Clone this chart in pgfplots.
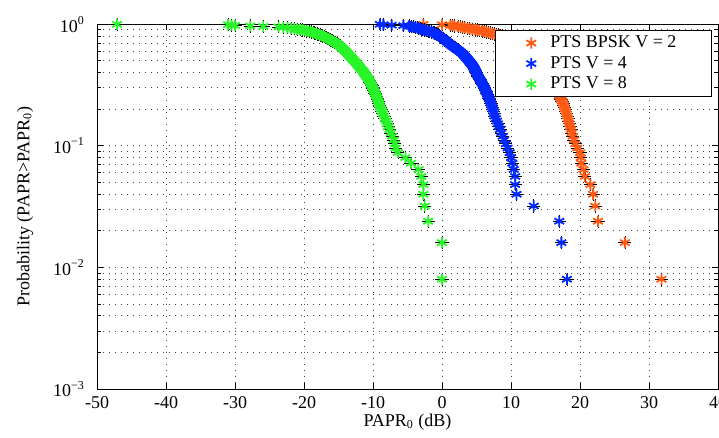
\documentclass[border=0pt]{standalone}
\usepackage{fontspec}
\setmainfont{Liberation Serif}
\usepackage{pgfplots}
\usepackage{pgfplotstable}
\pgfplotsset{compat=1.18}

\definecolor{cOr}{RGB}{255,90,20}
\definecolor{cBl}{RGB}{0,40,255}
\definecolor{cGr}{RGB}{40,245,40}

% CCDF samples: p = probability, g/b/o = PAPR0 (dB) of the green, blue, orange curves
\pgfplotstableread{
p g b o
1.000 -47.1 -9.0 -2.7
0.992 -31.0 -8.5 0.0
0.984 -30.5 -7.3 1.2
0.976 -30.0 -5.6 1.5
0.968 -27.8 -4.8 1.8
0.960 -25.9 -4.5 2.3
0.952 -23.7 -4.2 2.7
0.944 -23.0 -3.9 3.0
0.936 -22.4 -3.6 3.3
0.928 -21.9 -3.4 3.7
0.920 -21.4 -3.2 4.0
0.912 -21.0 -3.0 4.4
0.904 -20.6 -2.8 4.8
0.896 -20.2 -2.6 5.1
0.888 -19.9 -2.3 5.4
0.880 -19.6 -2.0 5.8
0.872 -19.3 -1.8 6.1
0.864 -19.0 -1.5 6.4
0.856 -18.7 -1.3 6.7
0.848 -18.5 -1.1 7.0
0.840 -18.3 -0.95 7.3
0.832 -18.1 -0.8 7.6
0.824 -17.9 -0.7 7.9
0.816 -17.7 -0.6 8.2
0.808 -17.5 -0.5 8.5
0.800 -17.3 -0.4 8.8
0.792 -17.1 -0.3 9.0
0.784 -16.9 -0.2 9.25
0.776 -16.8 -0.05 9.5
0.768 -16.6 0.1 9.7
0.760 -16.5 0.2 9.9
0.752 -16.3 0.3 10.1
0.744 -16.2 0.4 10.3
0.736 -16.0 0.5 10.5
0.728 -15.9 0.6 10.65
0.720 -15.7 0.7 10.8
0.712 -15.6 0.8 10.95
0.704 -15.4 0.95 11.1
0.696 -15.3 1.05 11.25
0.688 -15.2 1.15 11.4
0.680 -15.1 1.25 11.55
0.672 -14.9 1.35 11.7
0.664 -14.8 1.45 11.85
0.656 -14.7 1.6 12.0
0.648 -14.6 1.75 12.1
0.640 -14.5 1.9 12.25
0.632 -14.4 2.0 12.4
0.624 -14.3 2.15 12.5
0.616 -14.2 2.3 12.65
0.608 -14.1 2.45 12.8
0.600 -14.0 2.55 12.9
0.592 -13.9 2.7 13.0
0.584 -13.8 2.8 13.15
0.576 -13.7 2.95 13.25
0.568 -13.6 3.05 13.35
0.560 -13.5 3.15 13.5
0.552 -13.4 3.25 13.6
0.544 -13.3 3.35 13.7
0.536 -13.2 3.45 13.8
0.528 -13.1 3.55 13.9
0.520 -13.0 3.65 14.0
0.512 -12.9 3.75 14.1
0.504 -12.8 3.85 14.2
0.496 -12.65 3.95 14.3
0.488 -12.5 4.05 14.4
0.480 -12.4 4.15 14.5
0.472 -12.3 4.25 14.6
0.464 -12.2 4.35 14.7
0.456 -12.1 4.45 14.8
0.448 -12.0 4.55 14.9
0.440 -11.9 4.6 15.0
0.432 -11.8 4.7 15.05
0.424 -11.65 4.75 15.15
0.416 -11.5 4.85 15.25
0.408 -11.4 4.9 15.35
0.400 -11.3 5.0 15.45
0.392 -11.2 5.05 15.5
0.384 -11.1 5.1 15.6
0.376 -11.0 5.2 15.7
0.368 -10.85 5.3 15.8
0.360 -10.75 5.4 15.85
0.352 -10.65 5.5 15.95
0.344 -10.55 5.6 16.05
0.336 -10.45 5.7 16.15
0.328 -10.35 5.8 16.2
0.320 -10.25 5.9 16.3
0.312 -10.15 6.0 16.4
0.304 -10.1 6.1 16.5
0.296 -10.0 6.2 16.6
0.288 -9.9 6.3 16.7
0.280 -9.8 6.4 16.8
0.272 -9.7 6.5 16.85
0.264 -9.6 6.6 16.95
0.256 -9.5 6.7 17.05
0.248 -9.4 6.8 17.15
0.240 -9.3 6.9 17.25
0.232 -9.2 7.0 17.4
0.224 -9.15 7.1 17.55
0.216 -9.05 7.2 17.65
0.208 -8.95 7.3 17.75
0.200 -8.8 7.35 17.85
0.192 -8.7 7.45 17.95
0.184 -8.55 7.55 18.05
0.176 -8.4 7.65 18.15
0.168 -8.25 7.8 18.25
0.160 -8.1 7.95 18.35
0.152 -7.95 8.1 18.45
0.144 -7.8 8.25 18.55
0.136 -7.6 8.4 18.7
0.128 -7.4 8.6 18.8
0.120 -7.2 8.8 18.95
0.112 -7.0 9.0 19.1
0.104 -6.85 9.25 19.3
0.096 -6.7 9.5 19.6
0.088 -6.4 9.8 20.0
0.080 -5.3 10.0 20.1
0.072 -4.5 10.2 20.2
0.064 -3.4 10.4 20.5
0.056 -3.0 10.6 20.7
0.048 -2.7 10.6 21.5
0.040 -2.7 10.8 21.9
0.032 -2.5 13.3 22.2
0.024 -2.0 17.0 22.6
0.016 0.0 17.3 26.5
0.008 0.0 18.1 31.8
}\ccdf

\begin{document}
\begin{tikzpicture}
\begin{axis}[
  scale only axis, width=310.5pt, height=182.35pt,
  ymode=log, xmin=-50, xmax=40, ymin=1e-3, ymax=1,
  clip=false,
  font=\fontsize{9}{10}\selectfont,
  xtick={-50,-40,-30,-20,-10,0,10,20,30,40},
  xticklabels={-50,-40,-30,-20,-10,0,10,20,30,40},
  ytick={0.001,0.01,0.1,1},
  yticklabels={10\textsuperscript{−3},10\textsuperscript{−2},10\textsuperscript{−1},10\textsuperscript{0}},
  yticklabel style={xshift=-2.5pt},
  tick align=inside, major tick length=3pt, minor tick length=1.8pt,
  tick style={black, line width=0.4pt},
  axis line style={black, line width=0.5pt},
  xmajorgrids, ymajorgrids, yminorgrids,
  major grid style={black!75, line width=0.4pt, dash pattern=on 0.5pt off 2.5pt},
  minor grid style={black!75, line width=0.4pt, dash pattern=on 0.5pt off 2.5pt},
  xlabel={PAPR\textsubscript{0} (dB)},
  ylabel={Probability (PAPR>PAPR\textsubscript{0})},
  xlabel style={at={(axis description cs:0.5,-0.09)}, anchor=center},
  ylabel style={at={(axis description cs:-0.116,0.5)}, anchor=center},
  legend style={at={(0.990,0.984)}, anchor=north east, draw=black, fill=white,
    line width=0.5pt, inner sep=1.5pt, row sep=0.8pt,
    font=\fontsize{9}{10}\selectfont,
    nodes={inner sep=1pt}},
  legend cell align=left,
  legend image code/.code={%
    \path[draw=none, fill=none] (0pt,0pt) rectangle (25pt,0pt);
    \draw[only marks] plot coordinates {(16.5pt,0pt)};},
]
\addplot[only marks, mark=+, black, mark size=3.3pt, line width=0.3pt, forget plot] table[x=o,y=p]{\ccdf};
\addplot[only marks, mark=asterisk, cOr, mark size=2.8pt, line width=0.9pt] table[x=o,y=p]{\ccdf};
\addlegendentry{\makebox[78pt][l]{PTS BPSK V = 2}}
\addplot[only marks, mark=+, black, mark size=3.3pt, line width=0.3pt, forget plot] table[x=b,y=p]{\ccdf};
\addplot[only marks, mark=asterisk, cBl, mark size=2.8pt, line width=0.9pt] table[x=b,y=p]{\ccdf};
\addlegendentry{\makebox[78pt][l]{PTS V = 4}}
\addplot[only marks, mark=+, black, mark size=3.3pt, line width=0.3pt, forget plot] table[x=g,y=p]{\ccdf};
\addplot[only marks, mark=asterisk, cGr, mark size=2.8pt, line width=0.9pt] table[x=g,y=p]{\ccdf};
\addlegendentry{\makebox[78pt][l]{PTS V = 8}}
\end{axis}
\pgfresetboundingbox
\path[use as bounding box] ([shift={(-48.5pt,-24pt)}]current axis.south west) rectangle ([shift={(0.5pt,12.15pt)}]current axis.north east);
\end{tikzpicture}
\end{document}
